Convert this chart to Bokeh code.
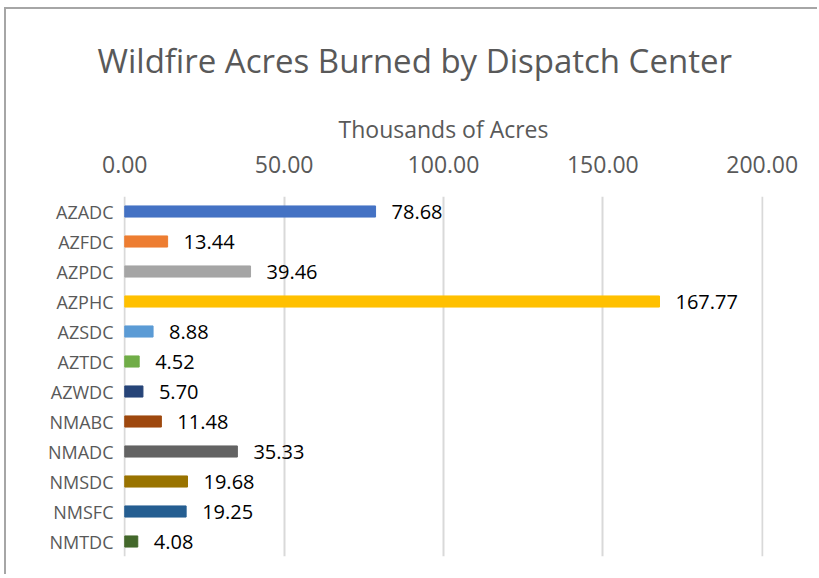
from bokeh.plotting import figure
from bokeh.models import ColumnDataSource, LabelSet, LinearAxis, Range1d, FactorRange, FixedTicker, CustomJSTickFormatter, Title
from bokeh.core.properties import value
from bokeh.embed import file_html
from bokeh.resources import INLINE

centers = ["AZADC", "AZFDC", "AZPDC", "AZPHC", "AZSDC", "AZTDC", "AZWDC",
           "NMABC", "NMADC", "NMSDC", "NMSFC", "NMTDC"]
acres = [78.68, 13.44, 39.46, 167.77, 8.88, 4.52, 5.70, 11.48, 35.33, 19.68, 19.25, 4.08]
colors = ["#4472C4", "#ED7D31", "#A5A5A5", "#FFC000", "#5B9BD5", "#70AD47",
          "#264478", "#9E480E", "#636363", "#997300", "#255E91", "#43682B"]
ticks = [0, 50, 100, 150, 200]
title_text = "Wildfire Acres Burned by Dispatch Center"

FONT = "Open Sans"

src = ColumnDataSource(dict(cat=centers, val=acres, color=colors,
                            lbl=["{:.2f}".format(v) for v in acres]))

p = figure(width=813, height=567, output_backend="svg", toolbar_location=None,
           y_range=FactorRange(factors=centers[::-1], range_padding=0),
           x_range=Range1d(-0.4, 200.4), x_axis_location=None,
           min_border_left=117, min_border_right=56, min_border_top=187,
           min_border_bottom=20)

p.hbar(y="cat", right="val", height=0.37, color="color", source=src)

labels = LabelSet(x="val", y="cat", text="lbl", source=src, x_offset=16,
                  text_baseline="middle", text_font=value(FONT), text_font_size="20px",
                  text_color="#000000")
p.add_layout(labels)

ax = LinearAxis(ticker=FixedTicker(ticks=ticks),
                formatter=CustomJSTickFormatter(code="return tick.toFixed(2);"),
                axis_label="Thousands of Acres")
ax.axis_line_color = None
ax.major_tick_line_color = None
ax.minor_tick_line_color = None
ax.major_label_text_font = FONT
ax.major_label_text_font_size = "23px"
ax.major_label_text_color = "#595959"
ax.major_label_standoff = 18
ax.axis_label_text_font = FONT
ax.axis_label_text_font_size = "23px"
ax.axis_label_text_font_style = "normal"
ax.axis_label_text_color = "#595959"
ax.axis_label_standoff = 8
p.add_layout(ax, "above")

p.xgrid.ticker = FixedTicker(ticks=ticks)
p.xgrid.grid_line_color = "#d9d9d9"
p.xgrid.grid_line_width = 2
p.ygrid.grid_line_color = None

p.yaxis.axis_line_color = None
p.yaxis.major_tick_line_color = None
p.yaxis.minor_tick_line_color = None
p.yaxis.major_label_text_font = FONT
p.yaxis.major_label_text_font_size = "18px"
p.yaxis.major_label_text_color = "#595959"
p.yaxis.major_label_standoff = 4

p.outline_line_color = None

t = Title(text=title_text, align="left", vertical_align="top",
          offset=-26, text_font=FONT, text_font_size="33px",
          text_font_style="normal", text_color="#595959", standoff=50)
p.add_layout(t, "above")

p.styles = {"border-top": "2px solid #a6a6a6", "border-left": "2px solid #a6a6a6",
            "margin-top": "7px", "margin-left": "4px"}

open("out.html", "w").write(file_html(p, INLINE))
